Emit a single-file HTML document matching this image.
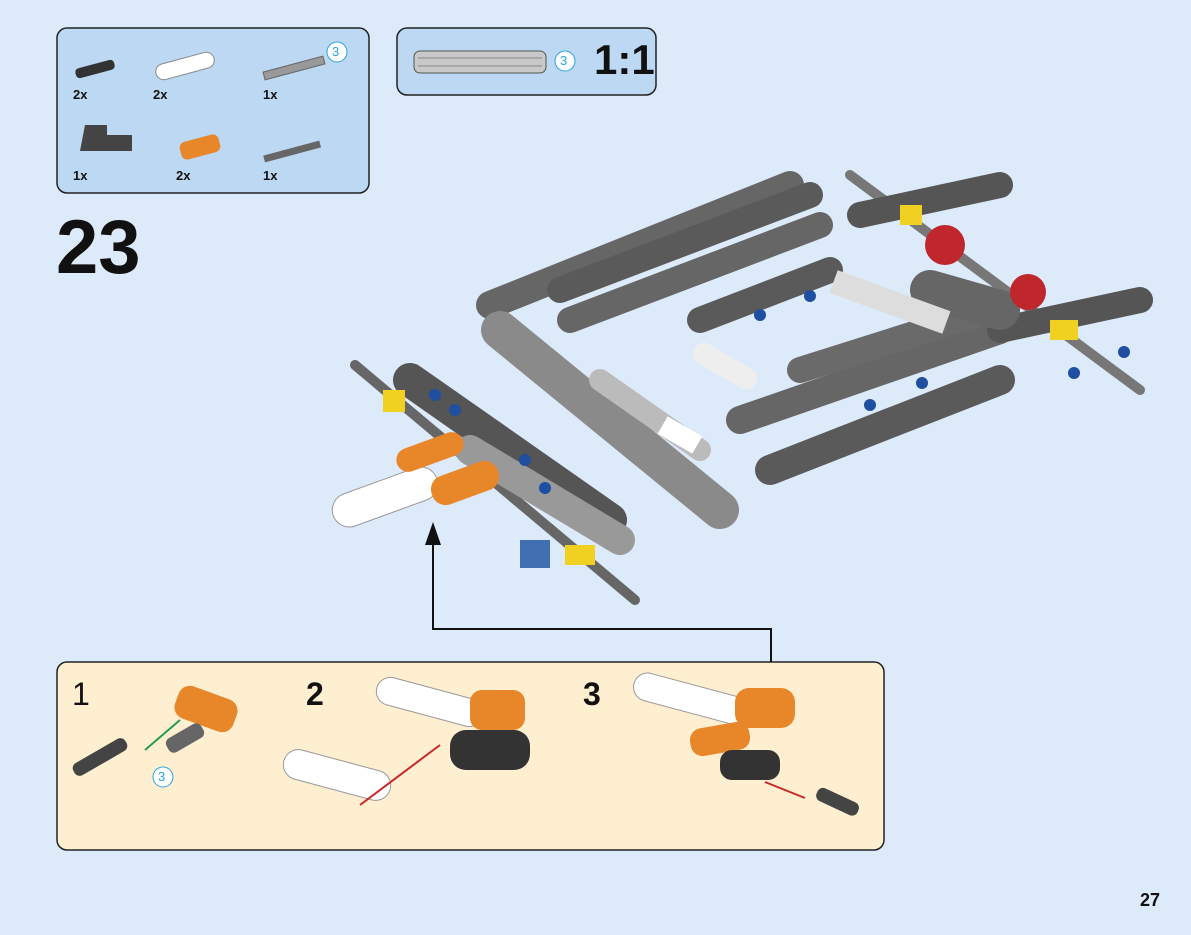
<!DOCTYPE html>
<html><head><meta charset="utf-8"><style>
body{margin:0;width:1191px;height:935px;background:#dceaf9;font-family:"Liberation Sans",sans-serif;overflow:hidden;position:relative}
.t{position:absolute;font-weight:bold;color:#111}
</style></head><body>
<svg width="1191" height="935" style="position:absolute;left:0;top:0">
<rect x="57" y="28" width="312" height="165" rx="10" fill="#bcd8f3" stroke="#222" stroke-width="1.5"/>
<g fill="#333"><rect x="75" y="64" width="40" height="10" rx="4" transform="rotate(-15 95 69)"/></g>
<rect x="155" y="58" width="60" height="16" rx="8" fill="#fff" stroke="#888" transform="rotate(-15 185 66)"/>
<rect x="263" y="64" width="62" height="8" fill="#999" stroke="#666" transform="rotate(-15 294 68)"/>
<circle cx="337" cy="52" r="10" fill="#fff" stroke="#29a3d8"/>
<path d="M85 125 h22 v10 h25 v16 h-52 z" fill="#444"/>
<rect x="180" y="138" width="40" height="18" rx="6" fill="#e8862a" transform="rotate(-15 200 147)"/>
<rect x="263" y="148" width="58" height="7" fill="#666" transform="rotate(-15 292 151)"/>
<rect x="397" y="28" width="259" height="67" rx="10" fill="#bcd8f3" stroke="#222" stroke-width="1.5"/>
<rect x="414" y="51" width="132" height="22" rx="6" fill="#c8c8c8" stroke="#555"/>
<line x1="418" y1="58" x2="542" y2="58" stroke="#888"/><line x1="418" y1="66" x2="542" y2="66" stroke="#888"/>
<circle cx="565" cy="61" r="10" fill="#fff" stroke="#29a3d8"/>
<!-- model as beams -->
<g stroke-linecap="round" fill="none">
<line x1="355" y1="365" x2="635" y2="600" stroke="#666" stroke-width="10"/>
<line x1="850" y1="175" x2="1140" y2="390" stroke="#777" stroke-width="10"/>
<line x1="490" y1="305" x2="790" y2="185" stroke="#666" stroke-width="28"/>
<line x1="560" y1="290" x2="810" y2="195" stroke="#5a5a5a" stroke-width="26"/>
<line x1="570" y1="320" x2="820" y2="225" stroke="#666" stroke-width="26"/>
<line x1="700" y1="320" x2="830" y2="270" stroke="#5a5a5a" stroke-width="26"/>
<line x1="500" y1="330" x2="720" y2="510" stroke="#8a8a8a" stroke-width="38"/>
<line x1="410" y1="380" x2="610" y2="520" stroke="#555" stroke-width="34"/>
<line x1="470" y1="450" x2="620" y2="540" stroke="#999" stroke-width="30"/>
<line x1="740" y1="420" x2="1000" y2="330" stroke="#666" stroke-width="28"/>
<line x1="770" y1="470" x2="1000" y2="380" stroke="#5a5a5a" stroke-width="30"/>
<line x1="800" y1="370" x2="990" y2="310" stroke="#6a6a6a" stroke-width="26"/>
<line x1="860" y1="215" x2="1000" y2="185" stroke="#555" stroke-width="26"/>
<line x1="1000" y1="330" x2="1140" y2="300" stroke="#555" stroke-width="26"/>
<line x1="930" y1="290" x2="1000" y2="310" stroke="#666" stroke-width="40"/>
<line x1="600" y1="380" x2="700" y2="450" stroke="#bbb" stroke-width="22"/>
</g>
<circle cx="945" cy="245" r="20" fill="#c0272d"/>
<circle cx="1028" cy="292" r="18" fill="#c0272d"/>
<rect x="830" y="290" width="120" height="24" fill="#ddd" transform="rotate(20 890 302)"/>
<rect x="690" y="355" width="70" height="22" rx="10" fill="#eee" transform="rotate(30 725 366)"/>
<rect x="330" y="480" width="110" height="34" rx="17" fill="#fff" stroke="#999" transform="rotate(-20 385 497)"/>
<rect x="430" y="468" width="70" height="30" rx="14" fill="#e8862a" transform="rotate(-20 465 483)"/>
<rect x="395" y="440" width="70" height="24" rx="12" fill="#e8862a" transform="rotate(-20 430 452)"/>
<rect x="565" y="545" width="30" height="20" fill="#f0d020"/>
<rect x="383" y="390" width="22" height="22" fill="#f0d020"/>
<rect x="1050" y="320" width="28" height="20" fill="#f0d020"/>
<rect x="900" y="205" width="22" height="20" fill="#f0d020"/>
<rect x="660" y="425" width="40" height="20" fill="#fff" transform="rotate(30 680 435)"/>
<rect x="520" y="540" width="30" height="28" fill="#3f6fb0"/>
<g fill="#1f4fa0"><circle cx="435" cy="395" r="6"/><circle cx="455" cy="410" r="6"/><circle cx="525" cy="460" r="6"/><circle cx="545" cy="488" r="6"/><circle cx="760" cy="315" r="6"/><circle cx="810" cy="296" r="6"/><circle cx="870" cy="405" r="6"/><circle cx="922" cy="383" r="6"/><circle cx="1074" cy="373" r="6"/><circle cx="1124" cy="352" r="6"/></g>
<polyline points="771,662 771,629 433,629 433,540" fill="none" stroke="#111" stroke-width="2"/>
<polygon points="425,545 441,545 433,522" fill="#111"/>
<rect x="57" y="662" width="827" height="188" rx="10" fill="#fdefd0" stroke="#222" stroke-width="1.5"/>
<rect x="175" y="692" width="62" height="34" rx="12" fill="#e8862a" transform="rotate(20 206 709)"/>
<rect x="70" y="750" width="60" height="14" rx="6" fill="#444" transform="rotate(-30 100 757)"/>
<rect x="165" y="730" width="40" height="16" rx="6" fill="#666" transform="rotate(-30 185 738)"/>
<line x1="145" y1="750" x2="180" y2="720" stroke="#2a9a50" stroke-width="2"/>
<circle cx="163" cy="777" r="10" fill="#fff" stroke="#29a3d8"/>
<rect x="375" y="688" width="110" height="28" rx="14" fill="#fff" stroke="#999" transform="rotate(15 430 702)"/>
<rect x="470" y="690" width="55" height="40" rx="12" fill="#e8862a"/>
<rect x="450" y="730" width="80" height="40" rx="16" fill="#333"/>
<rect x="282" y="760" width="110" height="30" rx="15" fill="#fff" stroke="#999" transform="rotate(15 337 775)"/>
<line x1="360" y1="805" x2="440" y2="745" stroke="#c82828" stroke-width="2"/>
<rect x="632" y="685" width="120" height="28" rx="14" fill="#fff" stroke="#999" transform="rotate(15 692 699)"/>
<rect x="735" y="688" width="60" height="40" rx="14" fill="#e8862a"/>
<rect x="690" y="725" width="60" height="28" rx="12" fill="#e8862a" transform="rotate(-10 720 739)"/>
<rect x="720" y="750" width="60" height="30" rx="12" fill="#333"/>
<rect x="815" y="795" width="45" height="14" rx="6" fill="#444" transform="rotate(25 838 802)"/>
<line x1="765" y1="782" x2="805" y2="798" stroke="#c82828" stroke-width="2"/>
</svg>
<div class="t" style="left:73px;top:87px;font-size:13px">2x</div>
<div class="t" style="left:153px;top:87px;font-size:13px">2x</div>
<div class="t" style="left:263px;top:87px;font-size:13px">1x</div>
<div class="t" style="left:73px;top:168px;font-size:13px">1x</div>
<div class="t" style="left:176px;top:168px;font-size:13px">2x</div>
<div class="t" style="left:263px;top:168px;font-size:13px">1x</div>
<div style="position:absolute;left:332px;top:44px;font-size:13px;color:#29a3d8">3</div>
<div style="position:absolute;left:560px;top:53px;font-size:13px;color:#29a3d8">3</div>
<div style="position:absolute;left:158px;top:769px;font-size:13px;color:#29a3d8">3</div>
<div class="t" style="left:594px;top:36px;font-size:42px">1:1</div>
<div class="t" style="left:56px;top:204px;font-size:76px">23</div>
<div class="t" style="left:72px;top:676px;font-size:32px;font-weight:normal">1</div>
<div class="t" style="left:306px;top:676px;font-size:32px">2</div>
<div class="t" style="left:583px;top:676px;font-size:32px">3</div>
<div class="t" style="left:1140px;top:890px;font-size:18px">27</div>
</body></html>
